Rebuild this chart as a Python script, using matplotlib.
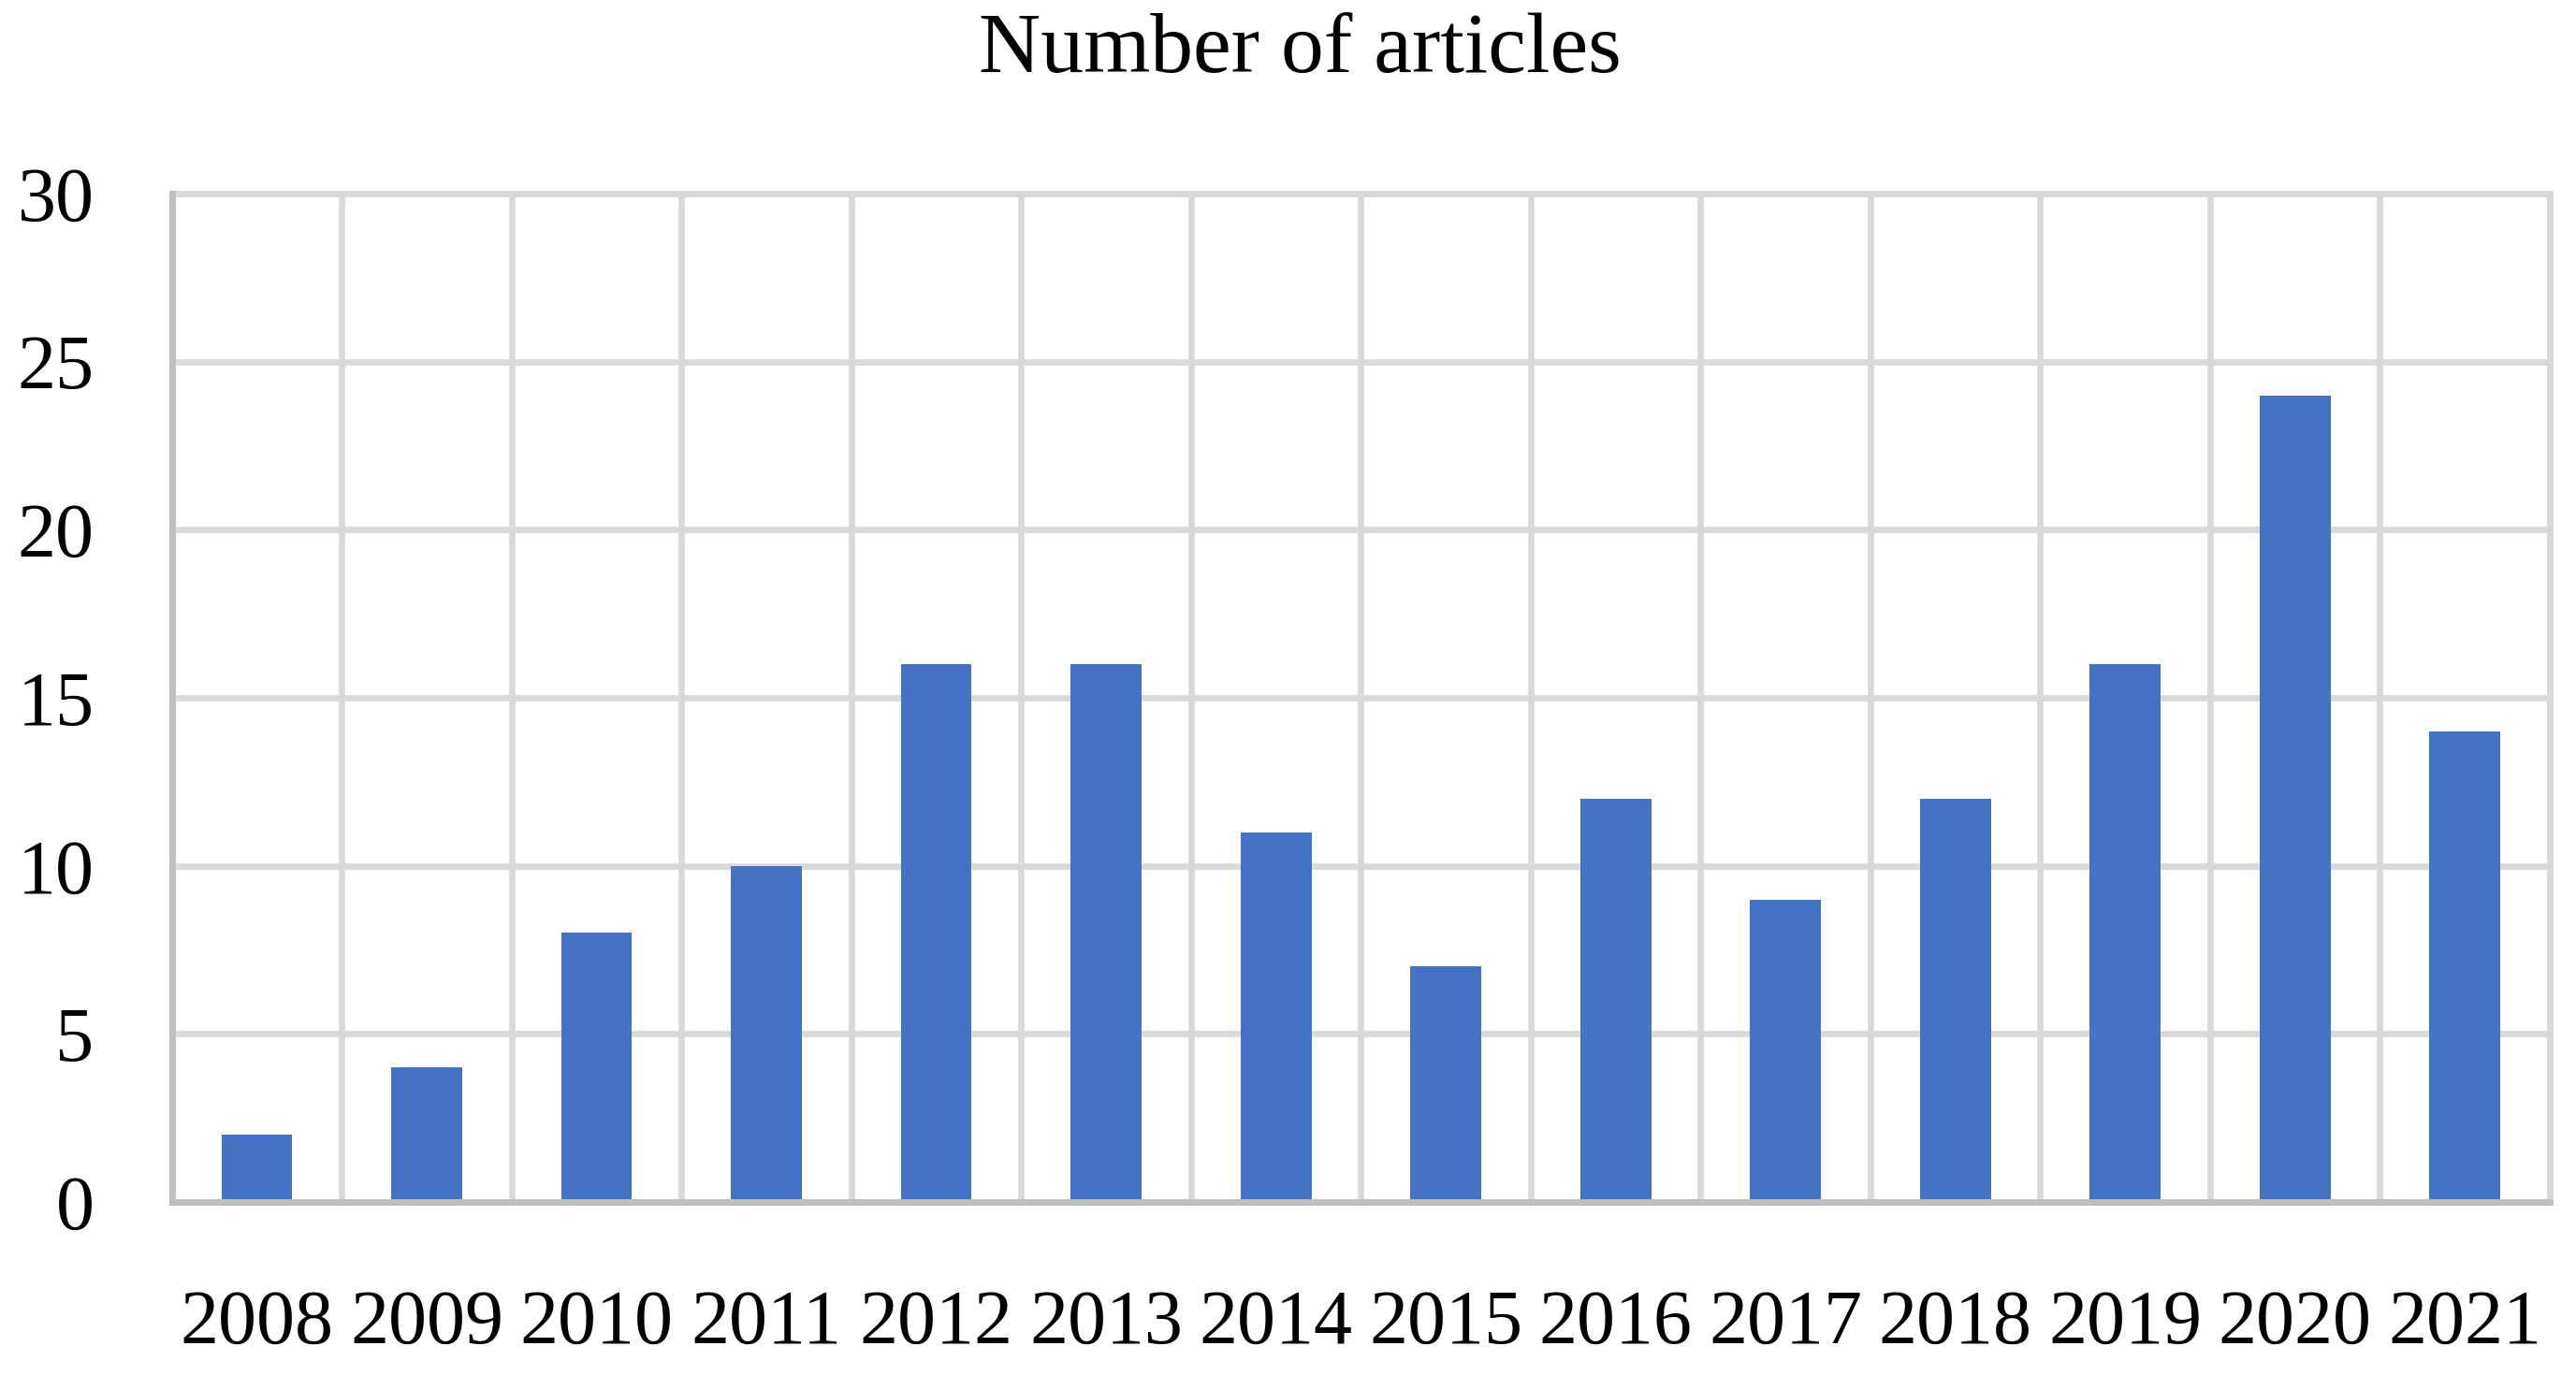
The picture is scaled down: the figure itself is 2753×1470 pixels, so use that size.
import matplotlib
matplotlib.use("Agg")
import matplotlib.pyplot as plt
import numpy as np

years = ["2008", "2009", "2010", "2011", "2012", "2013", "2014",
         "2015", "2016", "2017", "2018", "2019", "2020", "2021"]
articles = [2, 4, 8, 10, 16, 16, 11, 7, 12, 9, 12, 16, 24, 14]
yticks = [0, 5, 10, 15, 20, 25, 30]
title = "Number of articles"

plt.rcParams['font.family'] = ['Liberation Serif', 'DejaVu Serif']

fig = plt.figure(figsize=(27.53, 14.70), dpi=100)
ax = fig.add_axes([0.0668, 0.1259, 0.9898 - 0.0668, 0.8592 - 0.1259])

x = np.arange(len(years))
ax.bar(x, articles, width=0.417, color="#4472C4", zorder=3)

ax.set_xlim(-0.5, len(years) - 0.5)
ax.set_ylim(0, 30)
ax.set_yticks(yticks)
ax.set_xticks(x)
ax.set_xticklabels(years)
ax.set_xticks(np.arange(-0.5, len(years), 1), minor=True)

ax.grid(axis='y', which='major', color="#D9D9D9", linewidth=4.8, zorder=0)
ax.grid(axis='x', which='minor', color="#D9D9D9", linewidth=4.8, zorder=0)
ax.grid(axis='x', which='major', visible=False)

for s in ['left', 'bottom']:
    ax.spines[s].set_color("#BFBFBF")
    ax.spines[s].set_linewidth(5)
    ax.spines[s].set_zorder(4)
for s in ['top', 'right']:
    ax.spines[s].set_color("#D9D9D9")
    ax.spines[s].set_linewidth(5)

ax.tick_params(axis='both', which='both', length=0, labelsize=59, colors='black')
ax.tick_params(axis='y', pad=60)
ax.tick_params(axis='x', pad=67)

fig.text(0.5045, 0.963, title, ha='center', va='center', fontsize=66)

fig.savefig("out.png", dpi=100, facecolor='white')
